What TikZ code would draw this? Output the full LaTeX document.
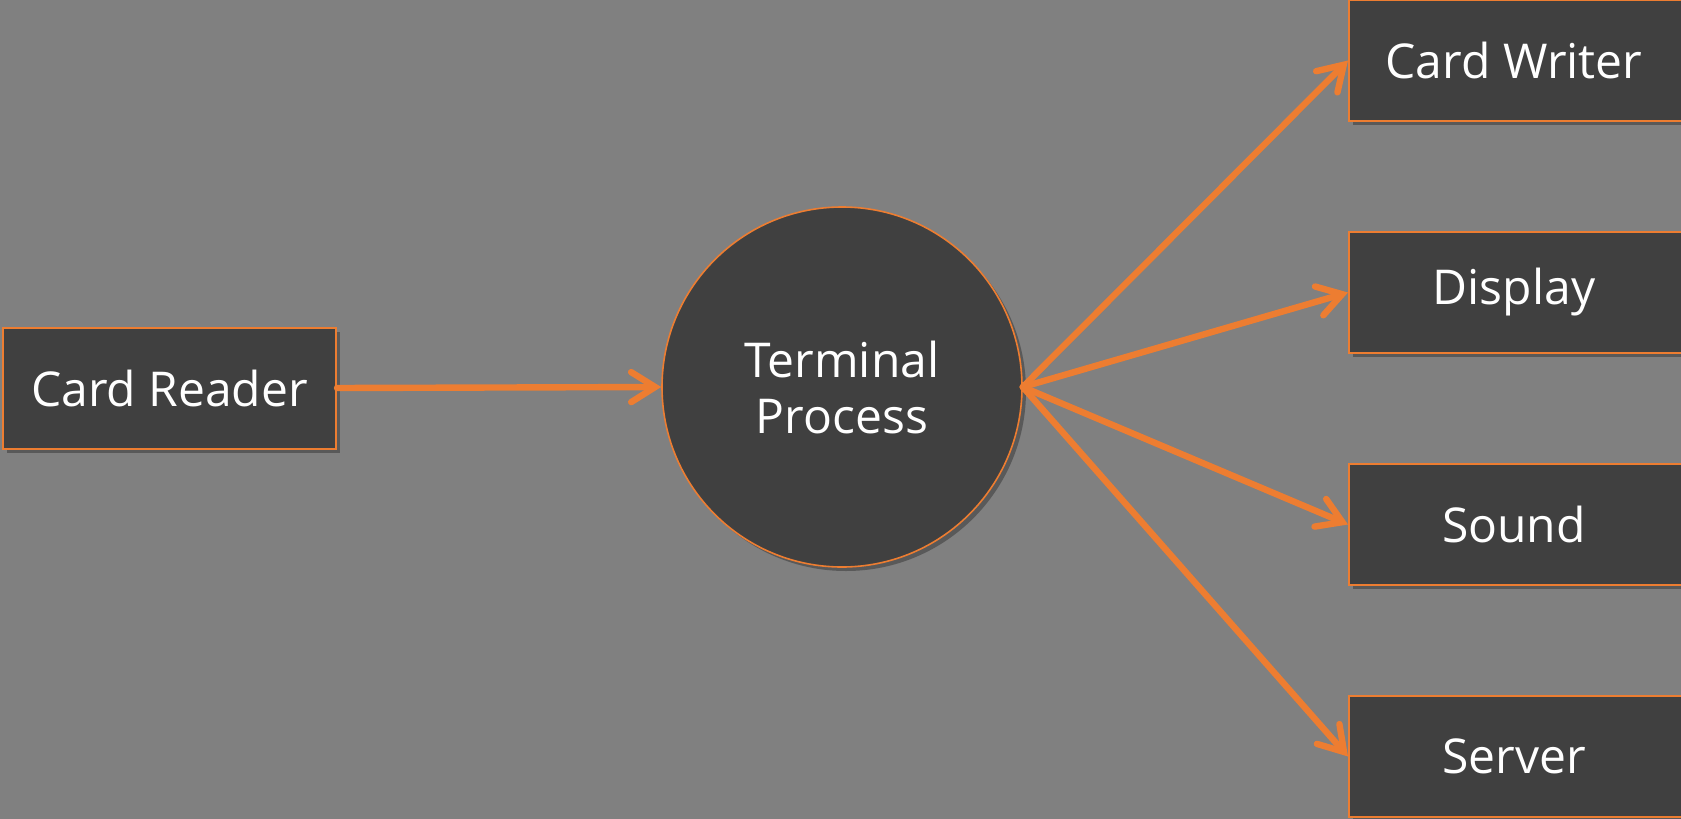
\documentclass[tikz,border=0pt]{standalone}
\usepackage{fontspec}
\setmainfont{Open Sans}
\usetikzlibrary{arrows.meta,shadows,shapes.geometric}
\definecolor{bggray}{HTML}{808080}
\definecolor{boxfill}{HTML}{404040}
\definecolor{accent}{HTML}{ED7D31}
\tikzset{
  box/.style={draw=accent, line width=1pt, fill=boxfill, text=white,
    minimum width=167pt, minimum height=60.5pt, inner sep=0pt,
    font=\fontsize{24}{28}\selectfont,
    drop shadow={shadow xshift=2pt, shadow yshift=-2pt, fill=black, opacity=0.3}},
  proc/.style={circle, draw=accent, line width=0.8pt, fill=boxfill, text=white,
    minimum size=180pt, inner sep=0pt, align=center,
    font=\fontsize{24}{28}\selectfont,
    drop shadow={shadow xshift=2pt, shadow yshift=-2pt, fill=black, opacity=0.3}},
  flow/.style={draw=accent, line width=3.2pt, line cap=round,
    -{Straight Barb[length=12pt, width=15pt, line width=3.2pt, line cap=round]}}
}
\begin{document}
\begin{tikzpicture}[x=0.5pt, y=-0.5pt]
  \fill[bggray] (0,0) rectangle (1681,819);
  \useasboundingbox (0,0) rectangle (1681,819);
  \node[box, minimum width=166.5pt] (reader) at (169.5,388) {Card Reader};
  \node[proc] (tp) at (842,387) {Terminal\\Process};
  \node[box] (writer) at (1516,60.5) {\hspace*{-2pt}Card Writer};
  \node[box] (display) at (1516,292.5) {\hspace*{-2pt}Display};
  \node[box] (sound) at (1516,524.5) {\hspace*{-2pt}Sound};
  \node[box] (server) at (1516,756.5) {\hspace*{-2pt}Server};
  \draw[flow] (reader.east) -- (tp.west);
  \draw[flow] (tp.east) -- (writer.west);
  \draw[flow] (tp.east) -- (display.west);
  \draw[flow] (tp.east) -- (sound.west);
  \draw[flow] (tp.east) -- (server.west);
\end{tikzpicture}
\end{document}
